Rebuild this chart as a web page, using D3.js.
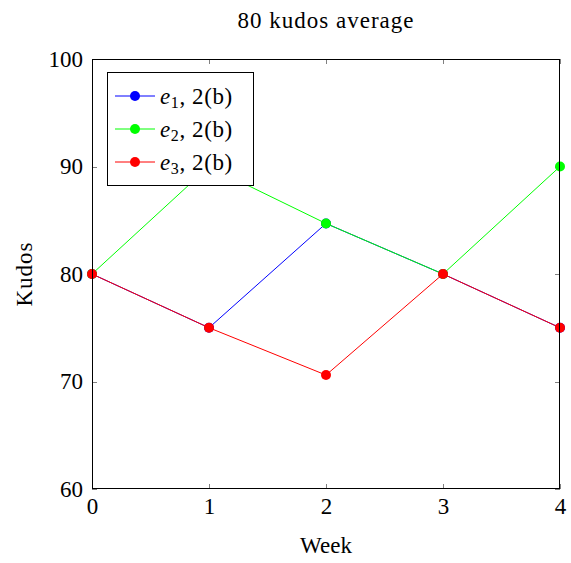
<!DOCTYPE html>
<html>
<head>
<meta charset="utf-8">
<script src="https://cdn.jsdelivr.net/npm/d3@7"></script>
<style>
  html, body { margin: 0; padding: 0; background: #fff; }
  svg text { font-family: "Liberation Serif", "DejaVu Serif", serif; fill: #000; }
</style>
</head>
<body>
<svg id="chart" width="571" height="563"></svg>
<script>
// Weekly kudos for three scenarios
const weeks = [0, 1, 2, 3, 4];
const e1 = [80, 75, 84.7, 80, 75];
const e2 = [80, 90, 84.7, 80, 90];
const e3 = [80, 75, 70.6, 80, 75];
const seriesNames = ["e1", "e2", "e3"];
const seriesSubs = ["1", "2", "3"];
const seriesColors = ["#0000ff", "#00ff00", "#ff0000"];
const yTicks = [60, 70, 80, 90, 100];
const xTicks = [0, 1, 2, 3, 4];

const svg = d3.select("#chart");
const plotLeft = 92, plotRight = 560, plotTop = 59, plotBottom = 489;
const fontFamily = "Liberation Serif, DejaVu Serif, serif";

const x = d3.scaleLinear().domain([0, 4]).range([plotLeft, plotRight]);
const y = d3.scaleLinear().domain([60, 100]).range([plotBottom, plotTop]);

// inner tick marks on all four sides
const tickLen = 5;
const tg = svg.append("g").attr("stroke", "#808080").attr("stroke-width", 1);
xTicks.forEach(t => {
  const px = Math.round(x(t)) + 0.5;
  tg.append("line").attr("x1", px).attr("x2", px).attr("y1", plotBottom).attr("y2", plotBottom - tickLen);
  tg.append("line").attr("x1", px).attr("x2", px).attr("y1", plotTop).attr("y2", plotTop + tickLen);
});
yTicks.forEach(t => {
  const py = Math.round(y(t)) + 0.5;
  tg.append("line").attr("x1", plotLeft).attr("x2", plotLeft + tickLen).attr("y1", py).attr("y2", py);
  tg.append("line").attr("x1", plotRight).attr("x2", plotRight - tickLen).attr("y1", py).attr("y2", py);
});

// tick labels via axes (lines hidden)
const xAxis = svg.append("g").attr("transform", `translate(0,${plotBottom})`)
  .call(d3.axisBottom(x).tickValues(xTicks).tickSize(0).tickPadding(9).tickFormat(d3.format("d")));
xAxis.select(".domain").remove();
xAxis.selectAll("text").attr("font-size", 23).attr("font-family", fontFamily).attr("dy", "0.71em").attr("fill", "#000");

const yAxis = svg.append("g").attr("transform", `translate(${plotLeft},0)`)
  .call(d3.axisLeft(y).tickValues(yTicks).tickSize(0).tickPadding(9).tickFormat(d3.format("d")));
yAxis.select(".domain").remove();
yAxis.selectAll("text").attr("font-size", 23).attr("font-family", fontFamily).attr("fill", "#000");

// series
const data = [e1, e2, e3];
const line = d3.line().x((d, i) => x(weeks[i])).y(d => y(d));
data.forEach((vals, k) => {
  const g = svg.append("g");
  g.append("path").datum(vals).attr("d", line)
    .attr("fill", "none").attr("stroke", seriesColors[k]).attr("stroke-width", 1);
  g.selectAll("circle").data(vals).join("circle")
    .attr("cx", (d, i) => x(weeks[i])).attr("cy", d => y(d)).attr("r", 5)
    .attr("fill", seriesColors[k]);
});

// frame
svg.append("rect").attr("x", plotLeft + 0.5).attr("y", plotTop + 0.5)
  .attr("width", plotRight - plotLeft - 1).attr("height", plotBottom - plotTop - 1)
  .attr("fill", "none").attr("stroke", "#000").attr("stroke-width", 1);

// legend
const lg = svg.append("g");
lg.append("rect").attr("x", 107.5).attr("y", 72.5).attr("width", 146).attr("height", 113)
  .attr("fill", "#fff").attr("stroke", "#000").attr("stroke-width", 1);
seriesNames.forEach((n, k) => {
  const cy = 96 + k * 33;
  lg.append("line").attr("x1", 115).attr("x2", 155).attr("y1", cy).attr("y2", cy)
    .attr("stroke", seriesColors[k]).attr("stroke-width", 1);
  lg.append("circle").attr("cx", 135).attr("cy", cy).attr("r", 5).attr("fill", seriesColors[k]);
  const t = lg.append("text").attr("x", 160).attr("y", cy + 8).attr("font-size", 23)
    .attr("letter-spacing", 0.6);
  t.append("tspan").attr("font-style", "italic").text("e");
  t.append("tspan").attr("font-size", 16).attr("dy", 4).text(seriesSubs[k]);
  t.append("tspan").attr("dy", -4).text(", 2(b)");
});

// title and axis labels
svg.append("text").attr("x", 326).attr("y", 28).attr("text-anchor", "middle")
  .attr("font-size", 23).attr("letter-spacing", 1).text("80 kudos average");
svg.append("text").attr("x", 326).attr("y", 553).attr("text-anchor", "middle")
  .attr("font-size", 23).text("Week");
svg.append("text").attr("transform", `translate(32,${(plotTop + plotBottom) / 2}) rotate(-90)`)
  .attr("text-anchor", "middle").attr("font-size", 23).attr("letter-spacing", 1).text("Kudos");
</script>
</body>
</html>
